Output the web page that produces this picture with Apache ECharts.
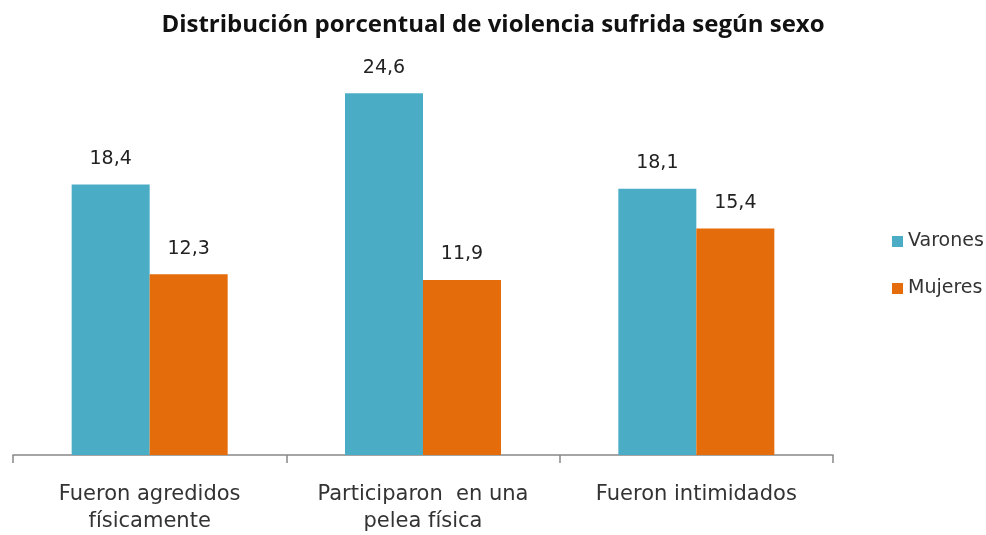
<!DOCTYPE html>
<html>
<head>
<meta charset="utf-8">
<script src="https://cdn.jsdelivr.net/npm/echarts@6/dist/echarts.min.js"></script>
<style>
  html, body { margin: 0; padding: 0; background: #fff; }
  #chart { width: 986px; height: 535px; }
</style>
</head>
<body>
<div id="chart"></div>
<script>
var categories = ['Fueron agredidos\nfísicamente', 'Participaron  en una\npelea física', 'Fueron intimidados'];
var varones = [18.4, 24.6, 18.1];
var mujeres = [12.3, 11.9, 15.4];

var myChart = echarts.init(document.getElementById('chart'));

function comma(p) {
    return String(p.value.toFixed(1)).replace('.', ',');
}

var option = {
    animation: false,
    title: {
        text: 'Distribución porcentual de violencia sufrida según sexo',
        left: 'center',
        top: 8,
        textStyle: {
            fontFamily: 'Open Sans',
            fontWeight: 'bold',
            fontSize: 24,
            color: '#111'
        }
    },
    legend: {
        orient: 'vertical',
        left: 887,
        top: 227,
        itemWidth: 11,
        itemHeight: 11,
        itemGap: 28,
        icon: 'rect',
        data: ['Varones', 'Mujeres'],
        textStyle: {
            fontFamily: 'DejaVu Sans',
            fontSize: 19,
            color: '#333'
        }
    },
    grid: {
        left: 13,
        right: 153,
        top: 58,
        bottom: 79
    },
    xAxis: {
        type: 'category',
        data: categories,
        axisLine: { lineStyle: { color: '#888', width: 1.5 } },
        axisTick: { show: true, interval: 0, length: 8, lineStyle: { color: '#888', width: 1.5 } },
        axisLabel: {
            interval: 0,
            hideOverlap: false,
            margin: 26,
            fontFamily: 'DejaVu Sans',
            fontSize: 21,
            lineHeight: 27,
            color: '#333'
        }
    },
    yAxis: {
        type: 'value',
        min: 0,
        max: 27,
        show: false,
        splitLine: { show: false }
    },
    series: [
        {
            name: 'Varones',
            type: 'bar',
            data: varones,
            barWidth: 78,
            barGap: '0%',
            itemStyle: { color: '#4BACC6' },
            label: {
                show: true,
                position: 'top',
                distance: 16,
                formatter: comma,
                fontFamily: 'DejaVu Sans',
                fontSize: 19,
                color: '#222'
            }
        },
        {
            name: 'Mujeres',
            type: 'bar',
            data: mujeres,
            barWidth: 78,
            itemStyle: { color: '#E46C0A' },
            label: {
                show: true,
                position: 'top',
                distance: 16,
                formatter: comma,
                fontFamily: 'DejaVu Sans',
                fontSize: 19,
                color: '#222'
            }
        }
    ]
};

if (option && typeof option === 'object') {
    myChart.setOption(option, true);
}
</script>
</body>
</html>
